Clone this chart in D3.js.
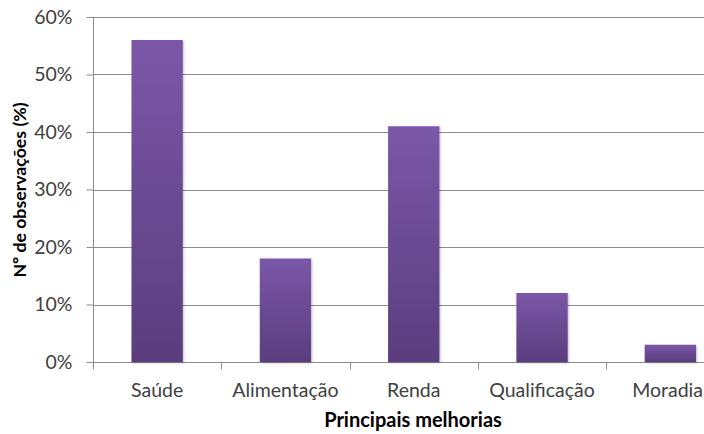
<!DOCTYPE html>
<html>
<head>
<meta charset="utf-8">
<script src="https://cdn.jsdelivr.net/npm/d3@7/dist/d3.min.js"></script>
<style>
  html, body { margin: 0; padding: 0; background: #fff; overflow: hidden; }
  svg { display: block; }
  text { font-family: Lato, "Open Sans", sans-serif; fill: #404040; }
</style>
</head>
<body>
<svg id="chart" width="704" height="434"></svg>
<script>
// Principais melhorias — share of observations per category
const categories = ["Saúde", "Alimentação", "Renda", "Qualificação", "Moradia"];
const values = [56, 18, 41, 12, 3];
const yTicks = [0, 10, 20, 30, 40, 50, 60];

(function draw() {
  const svg = d3.select("#chart");
  const W = 704;
  const plotLeft = 93, plotTop = 17, plotBottom = 362, bandW = 128.3;
  const plotRight = plotLeft + bandW * categories.length;

  const x = d3.scaleBand().domain(categories).range([plotLeft, plotRight]).paddingInner(0.6).paddingOuter(0.3);
  const y = d3.scaleLinear().domain([0, 60]).range([plotBottom, plotTop]);

  const defs = svg.append("defs");
  const grad = defs.append("linearGradient").attr("id", "barGrad")
    .attr("x1", 0).attr("y1", 0).attr("x2", 0).attr("y2", 1);
  grad.append("stop").attr("offset", "0%").attr("stop-color", "#7b57a8");
  grad.append("stop").attr("offset", "100%").attr("stop-color", "#5a3d7e");
  const shadow = defs.append("filter").attr("id", "shadow")
    .attr("x", "-20%").attr("y", "-20%").attr("width", "140%").attr("height", "140%");
  shadow.append("feDropShadow").attr("dx", 1).attr("dy", 1).attr("stdDeviation", 1.2)
    .attr("flood-color", "#000").attr("flood-opacity", 0.25);

  // Horizontal gridlines
  svg.append("g").selectAll("line").data(yTicks.filter(d => d > 0)).join("line")
    .attr("x1", plotLeft).attr("x2", W)
    .attr("y1", d => Math.round(y(d)) + 0.5).attr("y2", d => Math.round(y(d)) + 0.5)
    .attr("stroke", "#8c8c8c").attr("stroke-width", 1);

  // Y axis
  const yAxis = d3.axisLeft(y).tickValues(yTicks).tickFormat(d => d + "%").tickSize(7).tickPadding(14);
  const gy = svg.append("g").attr("transform", `translate(${plotLeft + 0.5},0)`).call(yAxis);
  gy.select(".domain").attr("stroke", "#8c8c8c").attr("d", `M0,${plotTop}V${plotBottom}`);
  gy.selectAll(".tick line").attr("stroke", "#8c8c8c");
  gy.selectAll(".tick text").attr("font-size", 19.5).attr("font-family", "Lato, sans-serif").attr("fill", "#404040");

  // X axis with boundary ticks
  const gx = svg.append("g").attr("transform", `translate(0,${plotBottom + 0.5})`);
  gx.append("line").attr("x1", plotLeft).attr("x2", W).attr("stroke", "#8c8c8c");
  gx.selectAll(".bt").data(d3.range(categories.length + 1)).join("line")
    .attr("class", "bt")
    .attr("x1", i => Math.round(plotLeft + i * bandW) + 0.5).attr("x2", i => Math.round(plotLeft + i * bandW) + 0.5)
    .attr("y1", 0).attr("y2", 7).attr("stroke", "#8c8c8c");
  gx.selectAll("text").data(categories).join("text")
    .attr("x", d => x(d) + x.bandwidth() / 2).attr("y", 34)
    .attr("text-anchor", "middle").attr("font-size", 19.5).text(d => d)
    .each(function () {
      // keep the last label inside the right edge
      const len = this.getComputedTextLength();
      const cx = +this.getAttribute("x");
      if (cx + len / 2 > W - 1) this.setAttribute("x", W - 1 - len / 2);
    });

  // Bars
  svg.append("g").selectAll("rect").data(values).join("rect")
    .attr("x", (d, i) => x(categories[i]))
    .attr("y", d => y(d))
    .attr("width", x.bandwidth())
    .attr("height", d => y(0) - y(d))
    .attr("fill", "url(#barGrad)")
    .attr("filter", "url(#shadow)");

  // Axis titles
  svg.append("text").attr("x", 413).attr("y", 427).attr("text-anchor", "middle")
    .attr("font-size", 20).attr("font-weight", "bold")
    .style("fill", "#000").text("Principais melhorias");
  svg.append("text").attr("transform", "translate(26,190) rotate(-90)").attr("text-anchor", "middle")
    .attr("font-size", 17.7).attr("font-weight", "bold")
    .style("fill", "#000").text("Nº de observações (%)");
})();
</script>
</body>
</html>
